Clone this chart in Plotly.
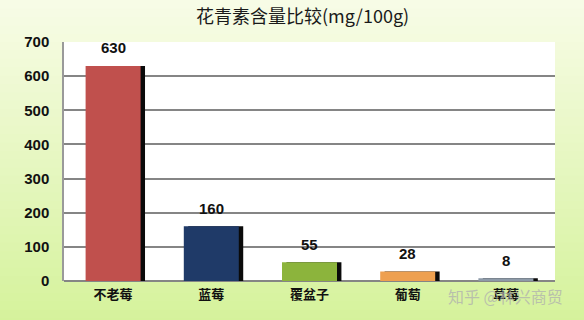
import plotly.graph_objects as go

categories = ["不老莓", "蓝莓", "覆盆子", "葡萄", "草莓"]
values = [630, 160, 55, 28, 8]
bar_colors = ["#c0504d", "#1f3a68", "#8cb43c", "#eea050", "#8d9aa8"]
y_ticks = [0, 100, 200, 300, 400, 500, 600, 700]
title_text = "花青素含量比较(mg/100g)"
watermark = "知乎 @林兴商贸"

W, H = 584, 320
BW = 0.56

fig = go.Figure()

# shadow bars
fig.add_trace(go.Bar(
    x=categories, y=values, width=BW, offset=-BW / 2 + 0.045,
    marker=dict(color="#0a0a0a", line=dict(width=0)),
    hoverinfo="skip", showlegend=False,
))
# main bars
fig.add_trace(go.Bar(
    x=categories, y=values, width=BW, offset=-BW / 2,
    marker=dict(color=bar_colors, line=dict(width=0)),
    showlegend=False,
))

# value labels
for c, v in zip(categories, values):
    fig.add_annotation(x=c, y=v, text="<b>%d</b>" % v, showarrow=False, yshift=18,
                       font=dict(family="Liberation Sans", size=15, color="#111"),
                       xref="x", yref="y")

# background gradient
shapes = []
n = 40
top = (248, 252, 232)
bot = (213, 242, 155)
for i in range(n):
    t = i / (n - 1)
    col = tuple(int(round(top[k] + (bot[k] - top[k]) * t)) for k in range(3))
    y1 = 1 - i / n
    y0 = 1 - (i + 1) / n
    shapes.append(dict(type="rect", xref="paper", yref="paper", layer="below",
                       x0=-0.2, x1=1.2, y0=-0.2 + 1.4 * y0, y1=-0.2 + 1.4 * y1 + 0.01,
                       fillcolor="rgb(%d,%d,%d)" % col, line=dict(width=0)))
shapes.append(dict(type="rect", xref="paper", yref="paper", layer="below",
                   x0=0, x1=1, y0=0, y1=1, fillcolor="white", line=dict(width=0)))

fig.add_annotation(text=title_text, xref="paper", yref="paper", x=0.485, y=1,
                   yanchor="bottom", yshift=12, showarrow=False,
                   font=dict(family="Noto Sans CJK SC", size=18, color="#1a1a1a"))
fig.add_annotation(text=watermark, xref="paper", yref="paper", x=1.02, y=0,
                   xanchor="right", yanchor="top", yshift=-1, showarrow=False,
                   font=dict(family="Noto Sans CJK SC", size=16, color="rgba(175,175,175,0.75)"))

fig.update_layout(
    width=W, height=H,
    margin=dict(l=64, r=29, t=42, b=39),
    paper_bgcolor="rgb(240,250,215)",
    plot_bgcolor="white",
    barmode="overlay",
    shapes=shapes,
    showlegend=False,
)
fig.update_xaxes(
    showgrid=False, showline=False, ticks="",
    tickfont=dict(family="Noto Sans CJK SC", size=13, color="#111", weight="bold"),
    ticklabelstandoff=4,
)
fig.update_yaxes(
    range=[0, 700], tickvals=y_ticks,
    showgrid=True, gridcolor="#858585", gridwidth=1.6,
    zeroline=True, zerolinecolor="#858585", zerolinewidth=1.6,
    showline=True, linecolor="#9a9a9a", linewidth=1.5,
    ticks="", ticklabelstandoff=10,
    tickfont=dict(family="Liberation Sans", size=15, color="#111", weight="bold"),
)

fig.write_html("out.html")
